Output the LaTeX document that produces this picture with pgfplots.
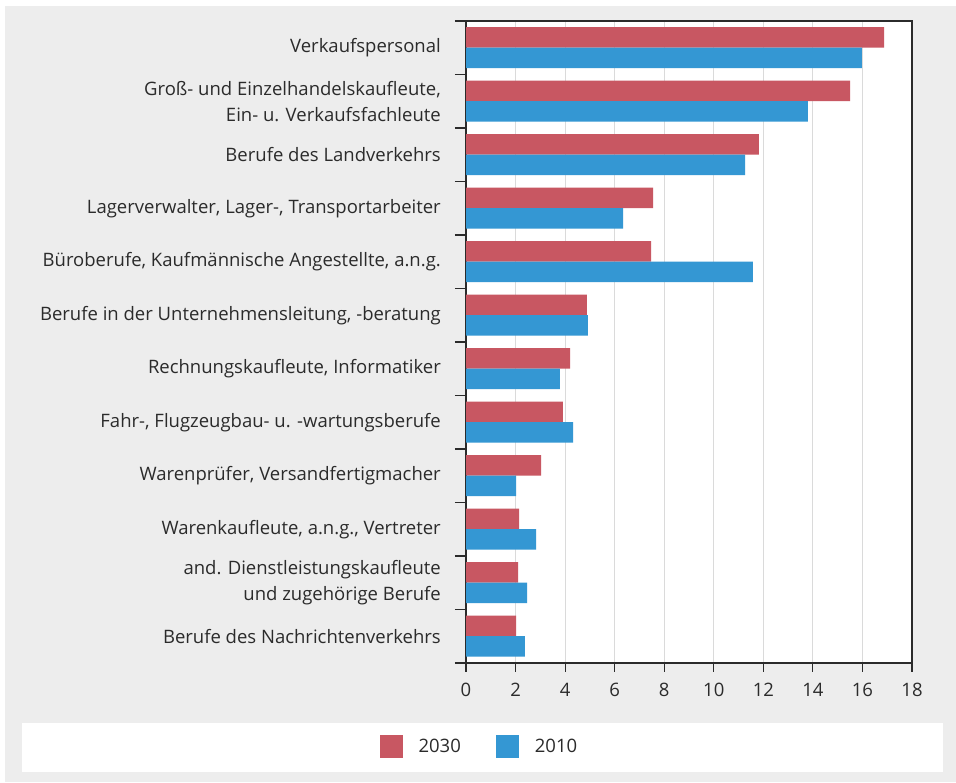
\documentclass[border=0pt]{standalone}
\usepackage{pgfplots}
\pgfplotsset{compat=1.18}
\usepackage{fontspec}
\setmainfont{Open Sans}
\definecolor{cred}{HTML}{C85762}
\definecolor{cblue}{HTML}{3497D3}
\definecolor{bg}{HTML}{EDEDED}
\definecolor{txt}{HTML}{2B2B2B}
\definecolor{gridc}{HTML}{DADADA}
\begin{document}
\begin{tikzpicture}
\fill[white] (0,0) rectangle (956bp,783bp);
\fill[bg] (5bp,1bp) rectangle (956bp,777bp);
\fill[white] (22bp,11bp) rectangle (943bp,60bp);
\begin{axis}[
  at={(466bp,120bp)}, anchor=south west,
  scale only axis, width=446bp, height=642bp,
  xbar, bar width=20.5bp,
  xmin=0, xmax=18, ymin=0.5, ymax=12.5,
  xtick={0,2,...,18},
  ytick={1,...,12},
  minor ytick={0.5,1.5,...,12.5},
  yticklabels={
    {Berufe des Nachrichtenverkehrs},
    {and. Dienstleistungskaufleute\\und zugehörige Berufe},
    {Warenkaufleute, a.n.g., Vertreter},
    {Warenprüfer, Versandfertigmacher},
    {Fahr-, Flugzeugbau- u. -wartungsberufe},
    {Rechnungskaufleute, Informatiker},
    {Berufe in der Unternehmensleitung, -beratung},
    {Büroberufe, Kaufmännische Angestellte, a.n.g.},
    {Lagerverwalter, Lager-, Transportarbeiter},
    {Berufe des Landverkehrs},
    {Groß- und Einzelhandelskaufleute,\\Ein- u. Verkaufsfachleute},
    {Verkaufspersonal}},
  axis background/.style={fill=white},
  axis line style={txt, line width=1.2bp},
  xmajorgrids, major grid style={gridc, line width=1bp},
  tick align=outside,
  xtick pos=bottom, ytick pos=left,
  major tick length=9bp, minor tick length=11bp,
  tick style={txt, line width=1.2bp},
  every major y tick/.append style={draw=none},
  every minor y tick/.append style={txt, line width=1.2bp},
  /pgf/number format/assume math mode=true,
  xticklabel style={font=\fontsize{18.5bp}{22bp}\selectfont, text=txt, inner sep=0pt, yshift=-11bp},
  yticklabel style={font=\fontsize{18.5bp}{26bp}\selectfont, text=txt, align=right, inner sep=0pt, xshift=-16bp},
  legend style={at={(0.030,-0.130)}, anchor=center, draw=none, fill=none,
    legend columns=2, font=\fontsize{18.5bp}{22bp}\selectfont, text=txt,
    /tikz/every even column/.append style={column sep=33bp}},
]
\addplot[draw=none, fill=cred, bar shift=10.25bp,
  legend image code/.code={\fill[cred] (0bp,-11.5bp) rectangle (23bp,11.5bp); \path (37bp,0bp);}]
  coordinates {(16.87,12) (15.5,11) (11.82,10) (7.55,9) (7.47,8) (4.88,7)
               (4.2,6) (3.91,5) (3.03,4) (2.14,3) (2.1,2) (2.02,1)};
\addplot[draw=none, fill=cblue, bar shift=-10.25bp,
  legend image code/.code={\fill[cblue] (0bp,-11.5bp) rectangle (23bp,11.5bp); \path (37bp,0bp);}]
  coordinates {(15.98,12) (13.8,11) (11.26,10) (6.34,9) (11.58,8) (4.92,7)
               (3.79,6) (4.32,5) (2.02,4) (2.83,3) (2.47,2) (2.38,1)};
\legend{2030,2010}
\end{axis}
\end{tikzpicture}
\end{document}
